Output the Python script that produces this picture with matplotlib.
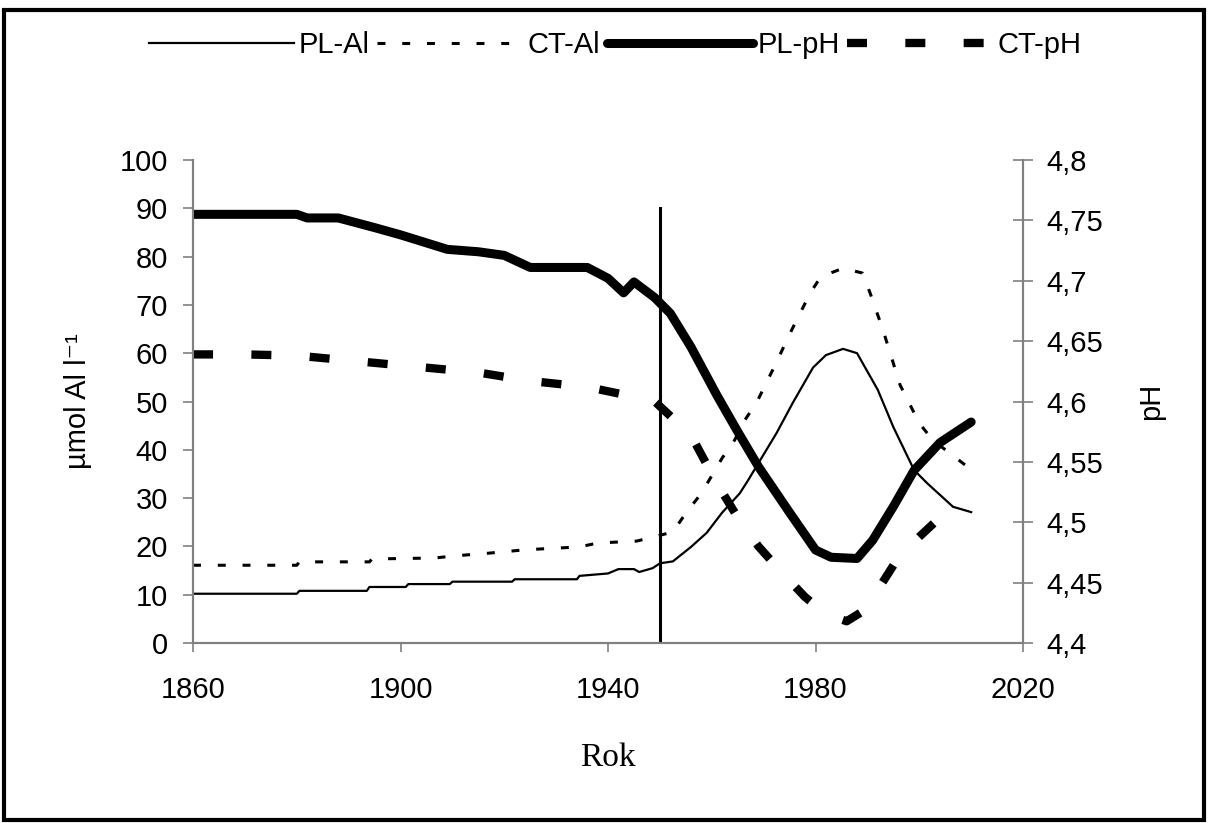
import matplotlib
matplotlib.use("Agg")
import matplotlib.pyplot as plt
from matplotlib.patches import Rectangle

plt.rcParams['font.family'] = ['Liberation Sans', 'DejaVu Sans']

# --- data ---
pl_al_years = [1860, 1880, 1880.5, 1893.5, 1894, 1901, 1901.5, 1909.5, 1910, 1921.5, 1922,
               1934, 1934.5, 1940, 1942, 1945, 1946, 1948.6, 1950, 1952.5, 1956, 1959,
               1962, 1965.4, 1967, 1972.5, 1975.6, 1979.5, 1982, 1985.3, 1988, 1992,
               1995, 1999, 2001.5, 2006.5, 2010]
pl_al = [10.2, 10.2, 10.8, 10.8, 11.6, 11.6, 12.2, 12.2, 12.7, 12.7, 13.2,
         13.2, 13.9, 14.4, 15.3, 15.3, 14.7, 15.5, 16.5, 16.9, 19.9, 22.8,
         27.0, 31.0, 33.7, 43.5, 49.7, 57.0, 59.6, 60.9, 60.0, 52.4,
         44.7, 35.8, 33.1, 28.2, 27.1]

ct_al_years = [1860, 1880, 1880.5, 1894, 1894.5, 1906.6, 1910, 1917, 1924, 1934.5, 1938,
               1945.5, 1948.6, 1952.5, 1955, 1958, 1962, 1964.4, 1966.4, 1968.6, 1972,
               1975.4, 1979, 1981, 1985.3, 1989, 1990.5, 1993, 1996.3, 2000, 2002.6, 2009.4]
ct_al = [16.1, 16.1, 16.8, 16.8, 17.4, 17.6, 18.0, 18.6, 19.3, 19.9, 20.7,
         21.1, 21.9, 23.0, 26.9, 31.0, 38.3, 42.0, 46.2, 49.7, 57.1,
         64.8, 72.5, 75.8, 77.6, 76.6, 72.5, 64.8, 53.4, 45.5, 42.0, 36.4]

pl_ph_years = [1860, 1880, 1882, 1888, 1895, 1900, 1909, 1915, 1920, 1925, 1936, 1940,
               1943, 1945, 1949, 1952, 1956, 1961, 1965, 1969, 1975, 1980, 1983, 1988,
               1991, 1995, 1999, 2004, 2010]
pl_ph = [4.755, 4.755, 4.752, 4.752, 4.744, 4.738, 4.726, 4.724, 4.721, 4.711, 4.711, 4.702,
         4.690, 4.699, 4.686, 4.673, 4.645, 4.605, 4.575, 4.546, 4.508, 4.477, 4.471, 4.470,
         4.485, 4.513, 4.543, 4.566, 4.583]

ct_ph_years = [1860, 1870, 1880, 1890, 1900, 1910, 1915, 1925, 1936, 1945, 1949, 1952,
               1956, 1961, 1965, 1969, 1974, 1978, 1982, 1986, 1989, 1992, 1996, 2000,
               2005, 2009]
ct_ph = [4.639, 4.639, 4.638, 4.634, 4.630, 4.626, 4.624, 4.617, 4.612, 4.604, 4.600, 4.588,
         4.572, 4.532, 4.504, 4.480, 4.456, 4.438, 4.424, 4.418, 4.426, 4.444, 4.471, 4.488,
         4.508, 4.514]

marker_year = 1950
marker_top = 90

x_ticks = [1860, 1900, 1940, 1980, 2020]
al_ticks = list(range(0, 101, 10))
ph_ticks = [4.4, 4.45, 4.5, 4.55, 4.6, 4.65, 4.7, 4.75, 4.8]
ph_tick_labels = ['4,4', '4,45', '4,5', '4,55', '4,6', '4,65', '4,7', '4,75', '4,8']

# --- figure ---
fig = plt.figure(figsize=(12.08, 8.23), dpi=100)
ax = fig.add_axes([0.1598, 0.2187, 0.6871, 0.5869])
ax2 = ax.twinx()

fs = 21
grey = '#808080'

l1, = ax.plot(pl_al_years, pl_al, color='black', lw=1.6, label='PL-Al')
l2, = ax.plot(ct_al_years, ct_al, color='black', lw=2.2, dashes=(2.6, 5.5),
              dash_capstyle='butt', label='CT-Al')
ax.plot([marker_year, marker_year], [0, marker_top], color='black', lw=2.2)

l3, = ax2.plot(pl_ph_years, pl_ph, color='black', lw=6.5, solid_capstyle='round',
               solid_joinstyle='round', label='PL-pH')
l4, = ax2.plot(ct_ph_years, ct_ph, color='black', lw=6, dashes=(2.4, 4.6),
               dash_capstyle='butt', label='CT-pH')

ax.set_xlim(1860, 2020)
ax.set_ylim(0, 100)
ax2.set_ylim(4.4, 4.8)

ax.set_xticks(x_ticks)
ax.set_yticks(al_ticks)
ax2.set_yticks(ph_ticks)
ax2.set_yticklabels(ph_tick_labels)

for a in (ax, ax2):
    a.spines['top'].set_visible(False)
    for s in ('left', 'right', 'bottom'):
        a.spines[s].set_color(grey)
        a.spines[s].set_linewidth(1.5)

ax.tick_params(axis='x', direction='out', length=6.5, width=1.2, color=grey,
               pad=17, labelsize=fs)
ax.tick_params(axis='y', direction='out', length=7, width=1.2, color=grey,
               pad=11, labelsize=fs)
ax2.tick_params(axis='y', direction='inout', length=14, width=1.2, color=grey,
                pad=10, labelsize=fs)

ax.set_xlabel('Rok', family=['Liberation Serif', 'DejaVu Serif'], fontsize=24, labelpad=28)
ax.set_ylabel('µmol Al l⁻¹', fontsize=fs, labelpad=20)
ax2.set_ylabel('pH', fontsize=fs, labelpad=24, rotation=90)

fig.legend(handles=[l1, l2, l3, l4], loc='center', bbox_to_anchor=(0.509, 0.945),
           ncol=4, frameon=False, fontsize=fs, handlelength=5.0,
           handletextpad=0.15, columnspacing=0.25)

# frame round the whole picture
fig.patches.append(Rectangle((0.003, 0.004), 0.994, 0.984, transform=fig.transFigure,
                             fill=False, edgecolor='black', lw=3))

fig.savefig('out.png', dpi=100)
